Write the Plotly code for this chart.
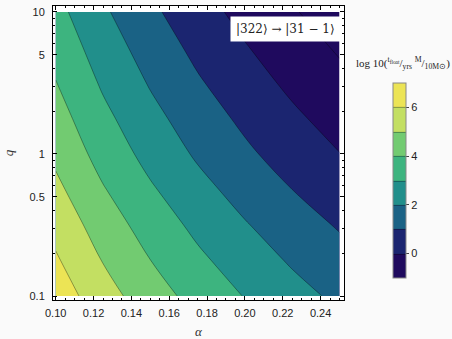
import plotly.graph_objects as go

# ---- data ----
alpha = [0.10, 0.125, 0.15, 0.175, 0.20, 0.225, 0.25]
q = [0.1, 0.1778, 0.3162, 0.5623, 1.0, 1.778, 3.162, 5.623, 10.0]
z_row_q0p1 = [6.57, 5.41, 4.46, 3.65, 2.96, 2.34, 1.80]
z_row_q0p18 = [6.12, 4.96, 4.01, 3.20, 2.51, 1.89, 1.35]
z_row_q0p32 = [5.68, 4.52, 3.57, 2.76, 2.07, 1.45, 0.91]
z_row_q0p56 = [5.23, 4.07, 3.12, 2.31, 1.62, 1.00, 0.46]
z_row_q1 = [4.79, 3.63, 2.68, 1.87, 1.18, 0.56, 0.02]
z_row_q1p8 = [4.41, 3.25, 2.30, 1.49, 0.80, 0.18, -0.37]
z_row_q3p2 = [4.03, 2.87, 1.92, 1.11, 0.42, -0.20, -0.75]
z_row_q5p6 = [3.67, 2.51, 1.56, 0.75, 0.06, -0.56, -1.11]
z_row_q10 = [3.31, 2.15, 1.20, 0.39, -0.30, -0.92, -1.47]
z = [z_row_q0p1, z_row_q0p18, z_row_q0p32, z_row_q0p56, z_row_q1,
     z_row_q1p8, z_row_q3p2, z_row_q5p6, z_row_q10]

band_colors = ["#1f0a5e", "#1b2570", "#1a6285", "#218f8b",
               "#3db47f", "#72cb71", "#c3df62", "#ece455"]
x_ticks = [0.10, 0.12, 0.14, 0.16, 0.18, 0.20, 0.22, 0.24]
y_ticks = [0.1, 0.5, 1, 5, 10]
y_tick_text = ["0.1", "0.5", "1", "5", "10"]
y_minor = [0.2, 0.3, 0.4, 0.6, 0.7, 0.8, 0.9, 2, 3, 4, 6, 7, 8, 9]
cb_ticks = [0, 2, 4, 6]
cb_range = [-1, 7]
label_text = "|322⟩ → |31 − 1⟩"
x_title = "α"
y_title = "q"

n = len(band_colors)
colorscale = [[i / (n - 1), c] for i, c in enumerate(band_colors)]

W, H = 452, 339
ml, mr, mt, mb = 53, 108, 6, 39
pw, ph = W - ml - mr, H - mt - mb

fig = go.Figure()
fig.add_trace(go.Contour(
    x=alpha, y=q, z=z,
    colorscale=colorscale, zmin=cb_range[0], zmax=cb_range[1],
    contours=dict(start=0, end=6, size=1, coloring="fill", showlines=True),
    line=dict(color="rgba(0,0,0,0.5)", width=0.7, smoothing=1.1),
    colorbar=dict(
        thickness=13, thicknessmode="pixels",
        len=195, lenmode="pixels",
        x=(393 - ml) / pw, xanchor="left", xpad=0,
        y=(H - mb - 83) / ph, yanchor="top", ypad=0,
        tickvals=cb_ticks, ticks="outside", ticklen=3, tickwidth=1,
        tickcolor="#444",
        tickfont=dict(family="Liberation Sans", size=11, color="#222"),
        outlinecolor="#888", outlinewidth=1,
    ),
    hoverinfo="skip",
))
fig.add_trace(go.Contour(
    x=alpha, y=q, z=z,
    contours=dict(start=-1, end=-1, size=1, coloring="none", showlines=True),
    line=dict(color="rgba(0,0,0,0.5)", width=0.7, smoothing=1.1),
    showscale=False, hoverinfo="skip",
))

axis_common = dict(
    showline=True, linecolor="black", linewidth=1, mirror="allticks",
    ticks="inside", ticklen=4, tickwidth=1, tickcolor="black",
    showgrid=False, zeroline=False, automargin=False,
    tickfont=dict(family="Liberation Sans", size=11, color="#222"),
)

fig.update_layout(
    width=W, height=H,
    margin=dict(l=ml, r=mr, t=mt, b=mb, autoexpand=False),
    paper_bgcolor="#fafafa", plot_bgcolor="white",
    xaxis=dict(
        range=[0.09857, 0.25238],
        tickvals=x_ticks, tickformat=".2f",
        minor=dict(dtick=0.005, tick0=0.10, ticks="inside", ticklen=2,
                   tickcolor="black", showgrid=False),
        ticklabelstandoff=3,
        **axis_common,
    ),
    yaxis=dict(
        type="log", range=[-1.028, 1.042],
        tickvals=y_ticks, ticktext=y_tick_text,
        minor=dict(tickmode="array", tickvals=y_minor, ticks="inside",
                   ticklen=2, tickcolor="black", showgrid=False),
        title=dict(text=y_title, font=dict(family="Liberation Serif", size=13,
                                           color="#333", style="italic"),
                   standoff=12),
        ticklabelstandoff=5,
        **axis_common,
    ),
    annotations=[
        dict(text=x_title, xref="paper", yref="paper",
             x=0.5, y=(H - mb - 331) / ph,
             xanchor="center", yanchor="middle", showarrow=False,
             font=dict(family="Liberation Serif", size=13, color="#333",
                       style="italic")),
        dict(text=label_text, xref="paper", yref="paper",
             x=(285.5 - ml) / pw, y=(H - mb - 28.5) / ph,
             xanchor="center", yanchor="middle", showarrow=False,
             bgcolor="white", borderpad=5,
             font=dict(family="DejaVu Serif", size=12, color="#222")),
        dict(text="log 10(<sup>t<sub>float</sub></sup>/<sub>yrs</sub> "
                  "<sup>M</sup>/<sub>10M⊙</sub>)",
             xref="paper", yref="paper",
             x=(403 - ml) / pw, y=(H - mb - 63) / ph,
             xanchor="center", yanchor="middle", showarrow=False,
             font=dict(family="Liberation Serif", size=11, color="#222")),
    ],
)

fig.write_html("out.html")
